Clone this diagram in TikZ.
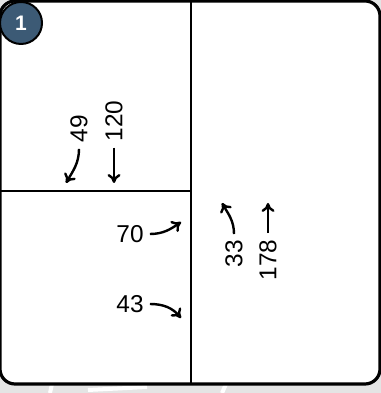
\documentclass[tikz,border=0pt]{standalone}
\usepackage{fontspec}
\setmainfont{Liberation Sans}
\usepackage{tikz}
\usetikzlibrary{arrows.meta}
\usepackage{xcolor}
\definecolor{badgeblue}{RGB}{60,90,117}
\definecolor{mapgray}{RGB}{228,228,228}

\begin{document}
\begin{tikzpicture}[
    x=0.5bp, y=0.5bp,
    frame/.style={draw=black, line width=1.6bp},
    divider/.style={draw=black, line width=1.4bp},
    count/.style={font=\fontsize{12.2bp}{14bp}\selectfont, inner sep=3bp},
    badge/.style={circle, draw=black, line width=1bp, fill=badgeblue,
        text=white, font=\bfseries\fontsize{10.5bp}{12bp}\selectfont,
        minimum size=21bp, inner sep=0pt},
    arrow/.style={-{To[length=4.5bp,width=6.5bp]}, line width=1.2bp}
]
    \useasboundingbox (0,0) rectangle (381,393);
    \fill[mapgray] (0,0) rectangle (381,393);
    \draw[white, line width=2bp] (50,0) -- (52,9);
    \draw[white, line width=2bp] (88,3) -- (147,6);
    \draw[white, line width=2bp] (222,0) -- (226,9);
    \filldraw[frame, fill=white, rounded corners=7.5bp] (0,9) rectangle (380,392);
    \draw[divider] (191,9) -- (191,392);
    \draw[divider] (0,202) -- (191,202);

    \node[badge] (b1) at (21,370) {1};

    \node[count, rotate=90] (n49) at (79,264) {49};
    \node[count, rotate=90] (n120) at (114,272) {120};
    \node[count] (n70) at (130,159) {70};
    \node[count] (n43) at (130,89) {43};
    \node[count, rotate=90] (n33) at (234,139) {33};
    \node[count, rotate=90] (n178) at (268,133) {178};

    \coordinate (c49) at (66,210);
    \coordinate (c120) at (114,210);
    \coordinate (c70) at (181,171);
    \coordinate (c43) at (181,75);
    \coordinate (c33) at (222,190);
    \coordinate (c178) at (268,190);

    \draw[arrow] (n49.west) to[out=-90, in=60] (c49);
    \draw[arrow] (n120.west) -- (c120);
    \draw[arrow] (n70.east) to[out=0, in=215] (c70);
    \draw[arrow] (n43.east) to[out=0, in=130] (c43);
    \draw[arrow] (n33.east) to[out=90, in=-60] (c33);
    \draw[arrow] (n178.east) -- (c178);
\end{tikzpicture}
\end{document}
